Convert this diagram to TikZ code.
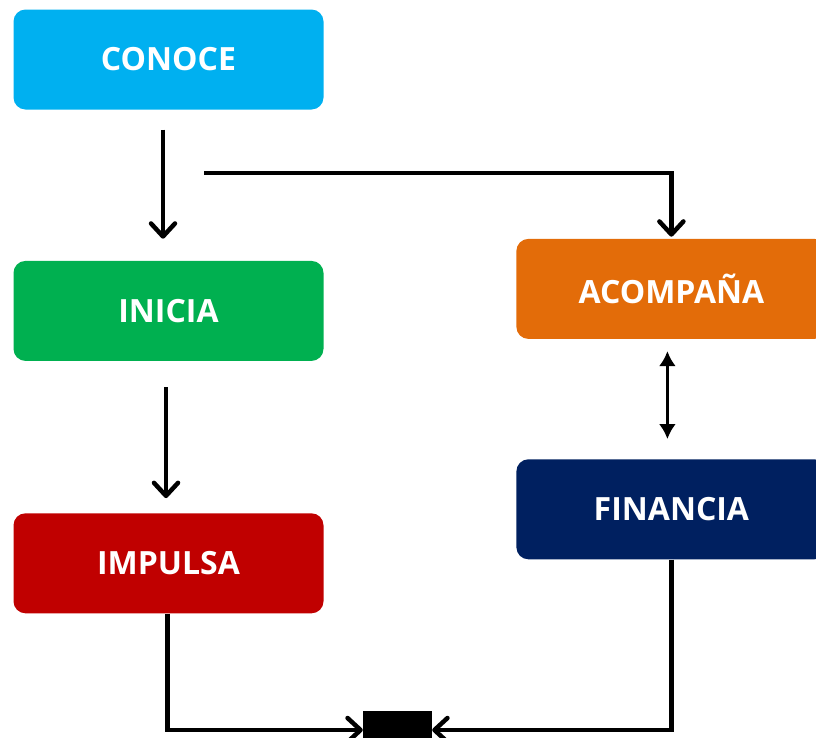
\documentclass[tikz,border=0pt]{standalone}
\usepackage{fontspec}
\setmainfont{Open Sans}
\usepackage{xcolor}
\usepackage{tikz}
\usetikzlibrary{arrows.meta,calc,positioning}
\pgfdeclarelayer{background}
\pgfsetlayers{background,main}
\definecolor{azul}{HTML}{00B0F0}
\definecolor{verde}{HTML}{00B050}
\definecolor{rojo}{HTML}{C00000}
\definecolor{naranja}{HTML}{E36C09}
\definecolor{marino}{HTML}{002060}

\begin{document}
\begin{tikzpicture}[
    etapa/.style={rounded corners=12pt,minimum width=310pt,minimum height=100pt,
                  inner sep=0pt,align=center,text=white,
                  font=\fontsize{32}{38}\selectfont\bfseries},
    flecha/.style={-{Straight Barb[length=13pt,width=24pt,line join=round,line cap=round]},
                   line width=4.5pt,black},
    doble/.style={{Latex[length=15pt,width=17pt]}-{Latex[length=15pt,width=17pt]},
                  line width=3.5pt,black}
  ]
    \useasboundingbox (0,0) rectangle (816pt,-737pt);
    \node[etapa,fill=azul] (conoce) at (168.5pt,-59.5pt) {CONOCE};
    \node[etapa,fill=verde,below=151pt of conoce] (inicia) {INICIA};
    \node[etapa,fill=rojo,below=152pt of inicia] (impulsa) {IMPULSA};
    \node[etapa,fill=naranja,right=192.5pt of inicia,yshift=22pt] (acompana) {ACOMPAÑA};
    \node[etapa,fill=marino,below=120pt of acompana] (financia) {FINANCIA};
    \node[fill=black,minimum width=69pt,minimum height=36pt,inner sep=0pt] (bloque) at (397.5pt,-729pt) {};
    \coordinate (rama) at (204pt,-173pt);
    \begin{pgfonlayer}{background}
      \draw[flecha,shorten <=20pt,shorten >=22pt] ([xshift=-5.5pt]conoce.south) -- ([xshift=-5.5pt]inicia.north);
      \draw[flecha,shorten >=2pt] (rama) -| (acompana.north);
      \draw[flecha,shorten <=26pt,shorten >=15pt] ([xshift=-2.5pt]inicia.south) -- ([xshift=-2.5pt]impulsa.north);
      \draw[doble,shorten <=12pt,shorten >=20pt] ([xshift=-4pt]acompana.south) -- ([xshift=-4pt]financia.north);
      \draw[flecha] ([xshift=-1pt]impulsa.south) |- ([yshift=-1pt]bloque.west);
      \draw[flecha] (financia.south) |- ([yshift=-1pt]bloque.east);
    \end{pgfonlayer}
\end{tikzpicture}
\end{document}
